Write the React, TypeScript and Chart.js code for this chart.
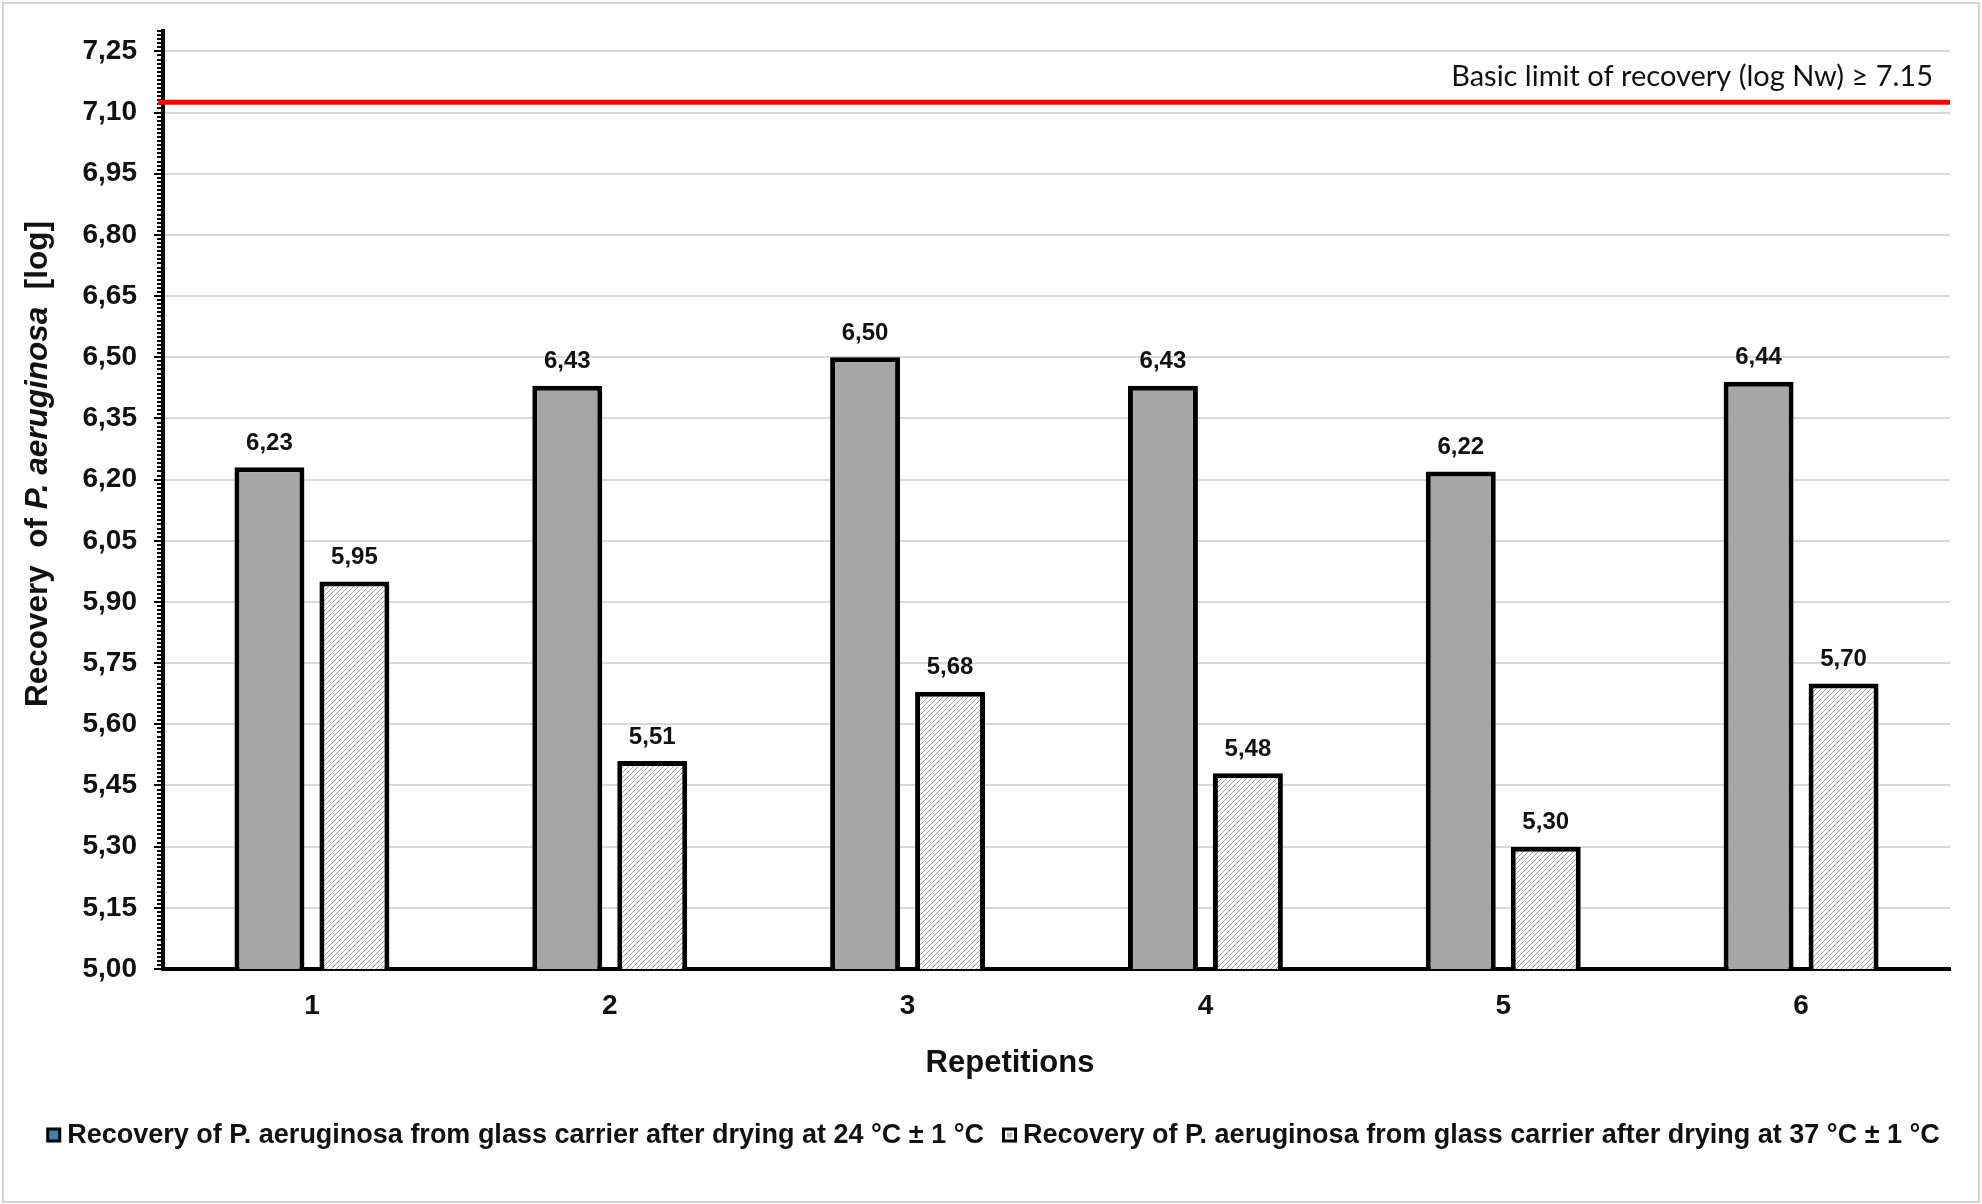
import React, { useEffect, useRef } from "react";
import { Chart, registerables } from "chart.js";

Chart.register(...registerables);

const categories = ["1", "2", "3", "4", "5", "6"];
const series24 = [6.23, 6.43, 6.5, 6.43, 6.22, 6.44];
const series37 = [5.95, 5.51, 5.68, 5.48, 5.3, 5.7];
const seriesLabels = [
  "Recovery of P. aeruginosa from glass carrier after drying at 24 °C ± 1 °C",
  "Recovery of P. aeruginosa from glass carrier after drying at 37 °C ± 1 °C",
];
const yTickValues = [5.0, 5.15, 5.3, 5.45, 5.6, 5.75, 5.9, 6.05, 6.2, 6.35, 6.5, 6.65, 6.8, 6.95, 7.1, 7.25];
const yMin = 5.0;
const yMax = 7.3;
const minorStep = 0.01;
const limitValue = 7.125;
const limitLabel = "Basic limit of recovery (log Nw) ≥ 7.15";
const xTitle = "Repetitions";
const yTitleParts = [
  { text: "Recovery  of ", italic: false },
  { text: "P. aeruginosa", italic: true },
  { text: "  [log]", italic: false },
];

const FONT = "'Liberation Sans', Arial, sans-serif";
const fmt = (v: number) => v.toFixed(2).replace(".", ",");

function makeHatch(): CanvasPattern | string {
  const c = document.createElement("canvas");
  c.width = 5;
  c.height = 5;
  const g = c.getContext("2d");
  if (!g) return "#ddd";
  g.fillStyle = "#ffffff";
  g.fillRect(0, 0, 5, 5);
  g.strokeStyle = "#a2a2a2";
  g.lineWidth = 1;
  g.beginPath();
  g.moveTo(0, 5);
  g.lineTo(5, 0);
  g.moveTo(-1, 1);
  g.lineTo(1, -1);
  g.moveTo(4, 6);
  g.lineTo(6, 4);
  g.stroke();
  const p = g.createPattern(c, "repeat");
  return p || "#ddd";
}

export default function App() {
  const ref = useRef<HTMLCanvasElement | null>(null);

  useEffect(() => {
    if (!ref.current) return;
    const hatch = makeHatch();
    const grey = "#a6a6a6";

    const framePlugin = {
      id: "frame",
      beforeDraw(chart: any) {
        const ctx = chart.ctx;
        ctx.save();
        ctx.fillStyle = "#ffffff";
        ctx.fillRect(0, 0, chart.width, chart.height);
        ctx.strokeStyle = "#d4d4d4";
        ctx.lineWidth = 2;
        ctx.strokeRect(3, 3, chart.width - 6, chart.height - 5);
        ctx.restore();
      },
    };

    const overlayPlugin = {
      id: "overlay",
      afterDraw(chart: any) {
        const ctx = chart.ctx;
        const y = chart.scales.y;
        const area = chart.chartArea;
        ctx.save();
        // minor / major ticks on y axis
        ctx.strokeStyle = "#000";
        ctx.lineWidth = 2;
        const n = Math.round((yMax - yMin) / minorStep);
        for (let i = 0; i <= n; i++) {
          const v = yMin + i * minorStep;
          const py = Math.round(y.getPixelForValue(v));
          const major = i % 15 === 0;
          ctx.beginPath();
          ctx.moveTo(area.left - (major ? 9 : 6), py);
          ctx.lineTo(area.left, py);
          ctx.stroke();
        }
        // limit line
        const ly = y.getPixelForValue(limitValue);
        ctx.strokeStyle = "#ff0000";
        ctx.lineWidth = 5;
        ctx.beginPath();
        ctx.moveTo(area.left - 5, ly);
        ctx.lineTo(area.right, ly);
        ctx.stroke();
        ctx.fillStyle = "#111";
        ctx.font = "29px Lato, 'Open Sans', sans-serif";
        ctx.textAlign = "right";
        ctx.textBaseline = "middle";
        ctx.fillText(limitLabel, area.right - 17, ly - 26);

        // data labels
        ctx.fillStyle = "#111";
        ctx.font = `bold 24px ${FONT}`;
        ctx.textAlign = "center";
        ctx.textBaseline = "middle";
        chart.data.datasets.forEach((ds: any, di: number) => {
          const meta = chart.getDatasetMeta(di);
          meta.data.forEach((bar: any, i: number) => {
            ctx.fillText(fmt(ds.data[i]), bar.x, bar.y - 24);
          });
        });

        // x title
        ctx.font = `bold 31px ${FONT}`;
        ctx.fillText(xTitle, 1010, 1063);

        // y title (rotated, mixed italic)
        ctx.save();
        ctx.translate(38, 464);
        ctx.rotate(-Math.PI / 2);
        ctx.textAlign = "left";
        const fonts = yTitleParts.map((p) => (p.italic ? `italic bold 31.5px ${FONT}` : `bold 31.5px ${FONT}`));
        let total = 0;
        const widths = yTitleParts.map((p, i) => {
          ctx.font = fonts[i];
          const w = ctx.measureText(p.text).width;
          total += w;
          return w;
        });
        let x = -total / 2;
        yTitleParts.forEach((p, i) => {
          ctx.font = fonts[i];
          ctx.fillText(p.text, x, 0);
          x += widths[i];
        });
        ctx.restore();

        // legend
        ctx.font = `bold 27px ${FONT}`;
        ctx.textAlign = "left";
        const box = 15;
        const gapBox = 6;
        const gapItem = 18;
        const tw = seriesLabels.map((t) => ctx.measureText(t).width);
        const totalW = tw.reduce((a, b) => a + b, 0) + 2 * (box + gapBox) + gapItem;
        let lx = 993 - totalW / 2;
        const lyc = 1135;
        const fills: any[] = ["#3f84ad", "#ffffff"];
        seriesLabels.forEach((t, i) => {
          ctx.fillStyle = "#000";
          ctx.fillRect(lx, lyc - box / 2, box, box);
          ctx.fillStyle = fills[i];
          ctx.fillRect(lx + 3, lyc - box / 2 + 3, box - 6, box - 6);
          if (i === 1) {
            ctx.fillStyle = "#bbbbbb";
            ctx.fillRect(lx + 5, lyc - box / 2 + 5, box - 10, box - 10);
          }
          ctx.fillStyle = "#111";
          ctx.fillText(t, lx + box + gapBox, lyc + 1);
          lx += box + gapBox + tw[i] + gapItem;
        });
        ctx.restore();
      },
    };

    const chart = new Chart(ref.current, {
      type: "bar",
      data: {
        labels: categories,
        datasets: [
          {
            label: seriesLabels[0],
            data: series24,
            backgroundColor: grey,
            borderColor: "#000",
            borderWidth: 5,
            borderSkipped: "start",
            barPercentage: 0.8235,
            categoryPercentage: 0.5705,
          },
          {
            label: seriesLabels[1],
            data: series37,
            backgroundColor: hatch as any,
            borderColor: "#000",
            borderWidth: 5,
            borderSkipped: "start",
            barPercentage: 0.8235,
            categoryPercentage: 0.5705,
          },
        ],
      },
      options: {
        responsive: false,
        animation: false,
        events: [],
        layout: { padding: { left: 0, top: 31, right: 32, bottom: 0 } },
        plugins: {
          legend: { display: false },
          title: { display: false },
          tooltip: { enabled: false },
        },
        scales: {
          x: {
            type: "category",
            grid: { display: false, drawTicks: false },
            border: { display: true, color: "#000", width: 4 },
            ticks: {
              color: "#111",
              font: { family: FONT, size: 28, weight: "bold" },
              padding: 20,
            },
            afterFit(scale: any) {
              scale.height = 235;
              scale.paddingLeft = 0;
              scale.paddingRight = 0;
            },
          },
          y: {
            min: yMin,
            max: yMax,
            grid: { color: "#d9d9d9", lineWidth: 2, drawTicks: false },
            border: { display: true, color: "#000", width: 4 },
            ticks: {
              color: "#111",
              font: { family: FONT, size: 28, weight: "bold" },
              padding: 26,
              callback: (v: any) => fmt(Number(v)),
            },
            afterBuildTicks(scale: any) {
              scale.ticks = yTickValues.map((v) => ({ value: v }));
            },
            afterFit(scale: any) {
              scale.width = 163;
              scale.paddingTop = 0;
              scale.paddingBottom = 0;
            },
          },
        },
      },
      plugins: [framePlugin, overlayPlugin],
    });
    return () => chart.destroy();
  }, []);

  return (
    <div style={{ position: "absolute", left: 0, top: 0, width: 1982, height: 1204 }}>
      <canvas ref={ref} width={1982} height={1204} style={{ display: "block" }} />
    </div>
  );
}
